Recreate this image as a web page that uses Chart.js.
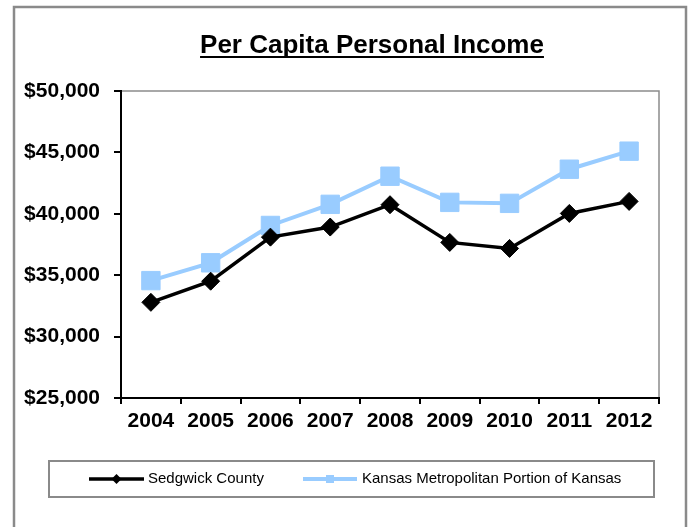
<!DOCTYPE html>
<html>
<head>
<meta charset="utf-8">
<script src="https://cdn.jsdelivr.net/npm/chart.js@4.4.1/dist/chart.umd.min.js"></script>
<style>
  html, body { margin: 0; padding: 0; background: #fff; }
  canvas { display: block; }
</style>
</head>
<body>
<canvas id="myChart" width="689" height="527"></canvas>
<script>
const years = ['2004', '2005', '2006', '2007', '2008', '2009', '2010', '2011', '2012'];
const sedgwick = [32790, 34510, 38100, 38920, 40740, 37670, 37180, 40030, 41010];
const kansasMetro = [34560, 36010, 39050, 40770, 43060, 40930, 40850, 43630, 45100];
const seriesNames = ['Sedgwick County', 'Kansas Metropolitan Portion of Kansas'];
const chartTitle = 'Per Capita Personal Income';

const FONT = '"Liberation Sans", Arial, sans-serif';

// frame, title, plot border
const framePlugin = {
    id: 'frame',
    beforeDraw(chart) {
        const ctx = chart.ctx;
        const a = chart.chartArea;
        ctx.save();
        ctx.fillStyle = '#fff';
        ctx.fillRect(0, 0, chart.width, chart.height);
        ctx.strokeStyle = '#8a8a8a';
        ctx.lineWidth = 2.5;
        ctx.strokeRect(14, 7, 672, 560);

        ctx.strokeStyle = '#8c8c8c';
        ctx.lineWidth = 1.5;
        ctx.beginPath();
        ctx.moveTo(a.left, a.top);
        ctx.lineTo(a.right, a.top);
        ctx.lineTo(a.right, a.bottom);
        ctx.stroke();

        ctx.fillStyle = '#000';
        ctx.font = 'bold 26px ' + FONT;
        ctx.textAlign = 'center';
        ctx.textBaseline = 'alphabetic';
        const cx = 372;
        ctx.fillText(chartTitle, cx, 53);
        const w = ctx.measureText(chartTitle).width;
        ctx.fillRect(cx - w / 2, 56, w, 2);
        ctx.restore();
    }
};

// legend with line + marker samples
const legendPlugin = {
    id: 'lineLegend',
    afterDraw(chart) {
        const ctx = chart.ctx;
        ctx.save();
        ctx.strokeStyle = '#8a8a8a';
        ctx.lineWidth = 2;
        ctx.strokeRect(49, 461, 605, 36);
        const items = [
            {x0: 89, x1: 144, tx: 148},
            {x0: 303, x1: 357, tx: 362}
        ];
        const y = 479;
        chart.data.datasets.forEach((ds, i) => {
            const it = items[i];
            ctx.strokeStyle = ds.borderColor;
            ctx.lineWidth = ds.borderWidth;
            ctx.beginPath();
            ctx.moveTo(it.x0, y);
            ctx.lineTo(it.x1, y);
            ctx.stroke();
            const mx = (it.x0 + it.x1) / 2;
            ctx.fillStyle = ds.pointBackgroundColor;
            ctx.beginPath();
            if (ds.pointStyle === 'rectRot') {
                ctx.moveTo(mx - 5, y);
                ctx.lineTo(mx, y - 5);
                ctx.lineTo(mx + 5, y);
                ctx.lineTo(mx, y + 5);
                ctx.closePath();
            } else {
                ctx.rect(mx - 4, y - 4, 8, 8);
            }
            ctx.fill();
            ctx.fillStyle = '#000';
            ctx.font = '15px ' + FONT;
            ctx.textAlign = 'left';
            ctx.textBaseline = 'middle';
            ctx.fillText(ds.label, it.tx, y);
        });
        ctx.restore();
    }
};

new Chart(document.getElementById('myChart'), {
    type: 'line',
    data: {
        labels: years,
        datasets: [{
            label: seriesNames[0],
            data: sedgwick,
            borderColor: '#000000',
            borderWidth: 3.5,
            pointStyle: 'rectRot',
            pointRadius: 9,
            pointHoverRadius: 9,
            pointBackgroundColor: '#000000',
            pointBorderColor: '#000000',
            pointBorderWidth: 1,
            tension: 0
        }, {
            label: seriesNames[1],
            data: kansasMetro,
            borderColor: '#99CCFF',
            borderWidth: 4,
            pointStyle: 'rect',
            pointRadius: 13,
            pointHoverRadius: 13,
            pointBackgroundColor: '#99CCFF',
            pointBorderColor: '#99CCFF',
            pointBorderWidth: 1,
            tension: 0
        }]
    },
    options: {
        responsive: false,
        animation: false,
        layout: {
            padding: {left: 0, top: 91, right: 30, bottom: 89}
        },
        plugins: {
            legend: {display: false},
            title: {display: false},
            tooltip: {enabled: false}
        },
        scales: {
            x: {
                offset: true,
                afterFit(scale) { scale.height = 40; },
                grid: {
                    offset: true,
                    drawOnChartArea: false,
                    drawTicks: true,
                    tickLength: 6,
                    color: '#000',
                    lineWidth: 2
                },
                border: {color: '#000', width: 2},
                ticks: {
                    color: '#000',
                    padding: 5,
                    maxRotation: 0,
                    font: {family: FONT, size: 21, weight: 'bold'}
                }
            },
            y: {
                min: 25000,
                max: 50000,
                afterFit(scale) { scale.width = 121; },
                grid: {
                    drawOnChartArea: false,
                    drawTicks: true,
                    tickLength: 7,
                    color: '#000',
                    lineWidth: 2
                },
                border: {color: '#000', width: 2},
                ticks: {
                    stepSize: 5000,
                    color: '#000',
                    padding: 14,
                    font: {family: FONT, size: 21, weight: 'bold'},
                    callback: v => '$' + v.toLocaleString('en-US')
                }
            }
        }
    },
    plugins: [framePlugin, legendPlugin]
});
</script>
</body>
</html>
